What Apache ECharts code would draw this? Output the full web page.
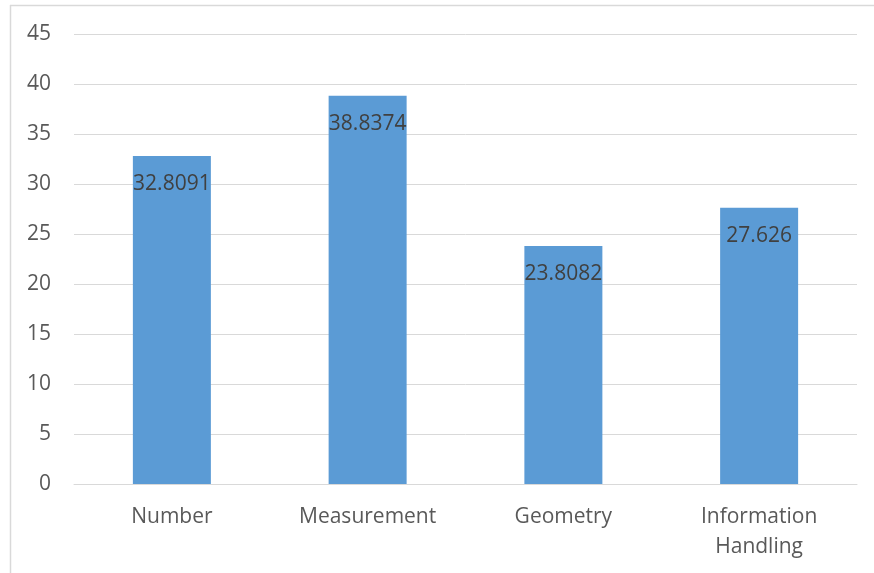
<!DOCTYPE html>
<html>
<head>
<meta charset="utf-8">
<script src="https://cdn.jsdelivr.net/npm/echarts@6/dist/echarts.min.js"></script>
<style>
  html, body { margin: 0; padding: 0; background: #fff; }
  #chart { width: 874px; height: 573px; }
</style>
</head>
<body>
<div id="chart"></div>
<script>
  var categories = ["Number", "Measurement", "Geometry", "Information\nHandling"];
  var values = [32.8091, 38.8374, 23.8082, 27.626];
  var labels = ["32.8091", "38.8374", "23.8082", "27.626"];

  var FONT = "Open Sans";
  var chart = echarts.init(document.getElementById("chart"), null, { renderer: "canvas" });

  chart.setOption({
    backgroundColor: "#ffffff",
    animation: false,
    graphic: [
      // chart frame (only top and left edges show)
      { type: "line", shape: { x1: 10, y1: 5.5, x2: 874, y2: 5.5 }, style: { stroke: "#d9d9d9", lineWidth: 1.5 } },
      { type: "line", shape: { x1: 10.5, y1: 5, x2: 10.5, y2: 573 }, style: { stroke: "#d9d9d9", lineWidth: 1.5 } }
    ],
    grid: { left: 74, right: 17, top: 34, bottom: 89 },
    xAxis: {
      type: "category",
      data: categories,
      axisLine: { show: true, lineStyle: { color: "#d9d9d9", width: 1 } },
      axisTick: { show: false },
      axisLabel: { color: "#595959", fontFamily: FONT, fontSize: 21, lineHeight: 30, margin: 18, interval: 0 }
    },
    yAxis: {
      type: "value",
      min: 0,
      max: 45,
      interval: 5,
      axisLine: { show: false },
      axisTick: { show: false },
      axisLabel: { color: "#595959", fontFamily: FONT, fontSize: 21, margin: 23 },
      splitLine: { lineStyle: { color: "#d9d9d9", width: 1 } }
    },
    series: [{
      type: "bar",
      data: values,
      barWidth: 78,
      itemStyle: { color: "#5b9bd5" },
      label: {
        show: true,
        position: "insideTop",
        distance: 18,
        color: "#404040",
        fontFamily: FONT,
        fontSize: 21,
        formatter: function (p) { return labels[p.dataIndex]; }
      }
    }]
  });
</script>
</body>
</html>
